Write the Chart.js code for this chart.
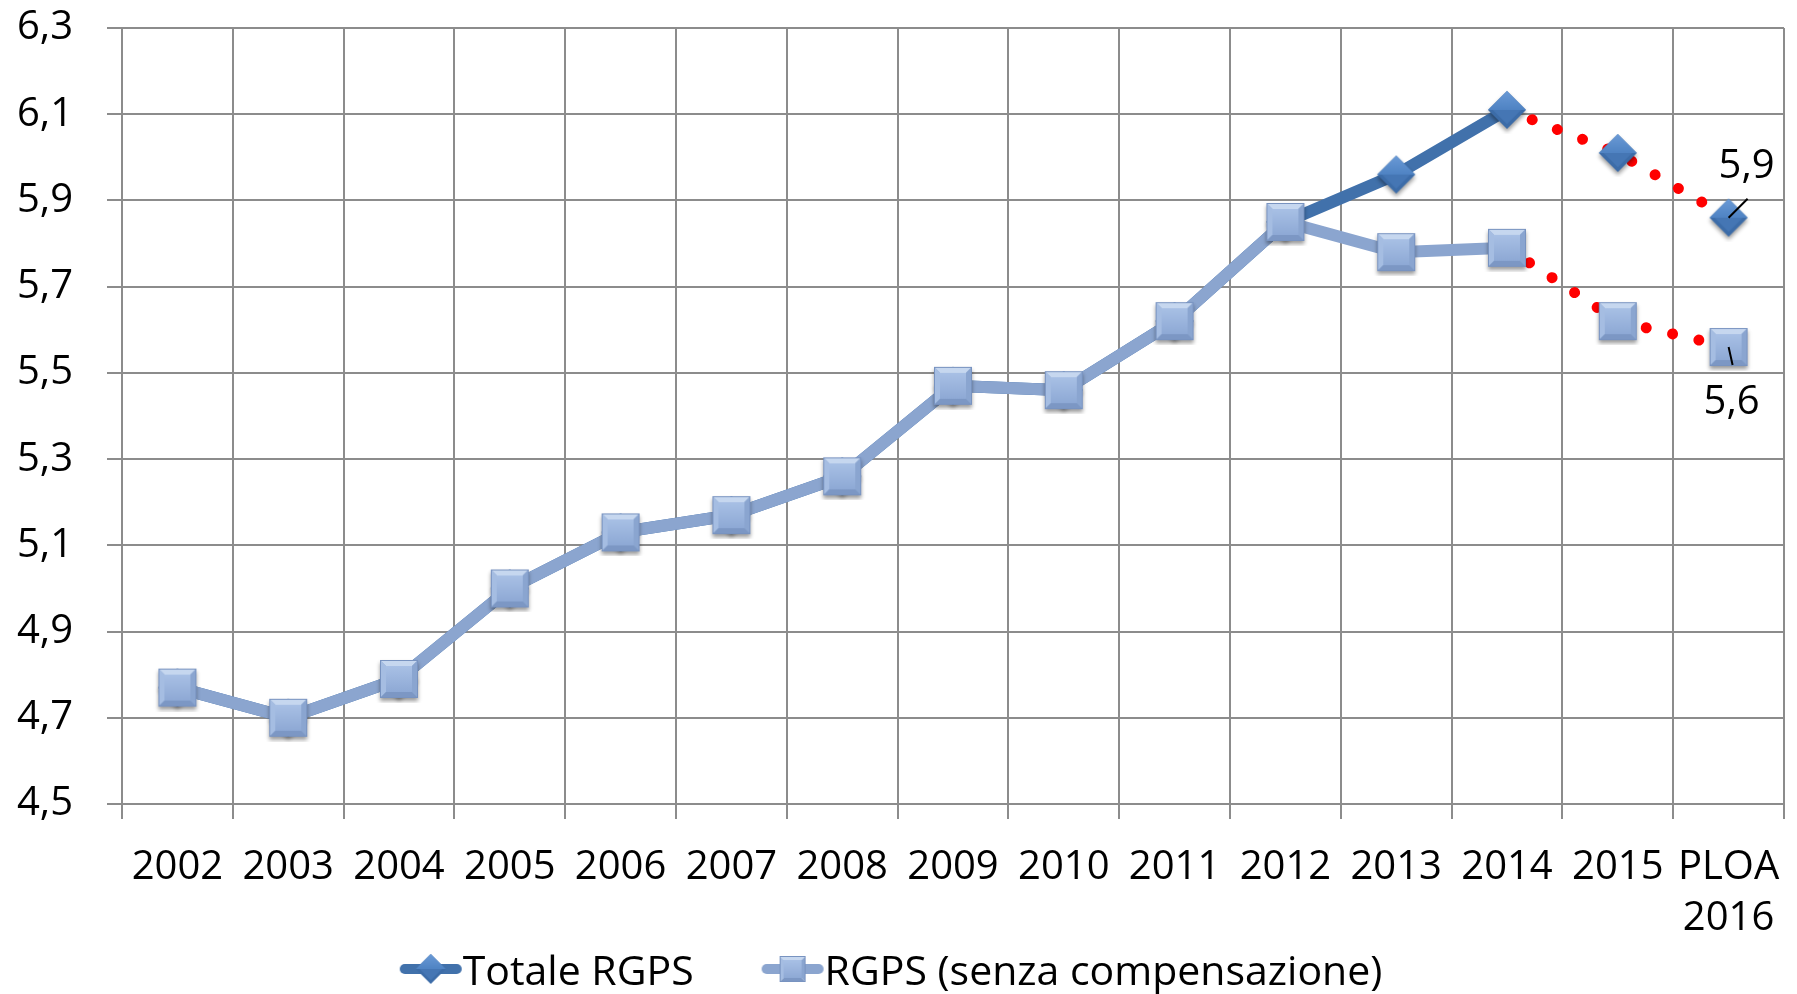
<!DOCTYPE html>
<html>
<head>
<meta charset="utf-8">
<script src="https://cdn.jsdelivr.net/npm/chart.js@4.4.1/dist/chart.umd.min.js"></script>
<style>
  html, body { margin: 0; padding: 0; background: #fff; }
  #wrap { width: 1797px; height: 994px; position: relative; }
</style>
</head>
<body>
<div id="wrap"><canvas id="chart"></canvas></div>
<script>
// data
const years = ["2002", "2003", "2004", "2005", "2006", "2007", "2008", "2009", "2010", "2011", "2012", "2013", "2014", "2015", ["PLOA", "2016"]];
const totaleRgps = [4.77, 4.70, 4.79, 5.00, 5.13, 5.17, 5.26, 5.47, 5.46, 5.62, 5.85, 5.96, 6.11, 6.01, 5.86];
const rgpsSenza = [4.77, 4.70, 4.79, 5.00, 5.13, 5.17, 5.26, 5.47, 5.46, 5.62, 5.85, 5.78, 5.79, 5.62, 5.56];
const seriesNames = ["Totale RGPS", "RGPS (senza compensazione)"];
const yMin = 4.5;
const yMax = 6.3;
const yStep = 0.2;
const forecastFrom = 12; // 2014 -> dotted red segments

const FONT = "'Open Sans'";
const darkBlue = "#4171ab";
const lightBlue = "#8ba5cf";

function fmt(v) {
  return v.toFixed(1).replace(".", ",");
}

// bevelled square marker, Excel style
function makeSquare(size, shadow) {
  const pad = shadow ? 5 : 1;
  const c = document.createElement("canvas");
  c.width = c.height = size + pad * 2;
  const g = c.getContext("2d");
  const x0 = pad, y0 = pad, s = size;
  const b = Math.max(2, Math.round(size * 0.15));
  if (shadow) {
    g.save();
    g.shadowColor = "rgba(0,0,0,0.4)";
    g.shadowBlur = 4;
    g.shadowOffsetY = 3;
    g.fillStyle = "#8aa6d2";
    g.fillRect(x0, y0, s, s);
    g.restore();
  }
  function facet(pts, color) {
    g.beginPath();
    g.moveTo(pts[0][0], pts[0][1]);
    for (let i = 1; i < pts.length; i++) g.lineTo(pts[i][0], pts[i][1]);
    g.closePath();
    g.fillStyle = color;
    g.fill();
  }
  const x1 = x0 + s, y1 = y0 + s;
  facet([[x0, y0], [x1, y0], [x1 - b, y0 + b], [x0 + b, y0 + b]], "#c6d7ef");
  facet([[x0, y0], [x0 + b, y0 + b], [x0 + b, y1 - b], [x0, y1]], "#a5bde2");
  facet([[x1, y0], [x1, y1], [x1 - b, y1 - b], [x1 - b, y0 + b]], "#8aa5d0");
  facet([[x0, y1], [x0 + b, y1 - b], [x1 - b, y1 - b], [x1, y1]], "#7c97c4");
  const grad = g.createLinearGradient(0, y0 + b, 0, y1 - b);
  grad.addColorStop(0, "#a8c0e5");
  grad.addColorStop(1, "#8ea9d5");
  g.fillStyle = grad;
  g.fillRect(x0 + b, y0 + b, s - 2 * b, s - 2 * b);
  g.strokeStyle = "#7893c0";
  g.lineWidth = 1;
  g.strokeRect(x0 + 0.5, y0 + 0.5, s - 1, s - 1);
  return c;
}

// bevelled diamond marker
function makeDiamond(r, shadow) {
  const pad = shadow ? 5 : 1;
  const c = document.createElement("canvas");
  c.width = c.height = r * 2 + pad * 2;
  const g = c.getContext("2d");
  const cx = pad + r, cy = pad + r;
  g.save();
  if (shadow) {
    g.shadowColor = "rgba(0,0,0,0.4)";
    g.shadowBlur = 4;
    g.shadowOffsetY = 3;
  }
  g.beginPath();
  g.moveTo(cx - r, cy);
  g.lineTo(cx, cy - r);
  g.lineTo(cx + r, cy);
  g.lineTo(cx, cy + r);
  g.closePath();
  g.fillStyle = "#3c6ca8";
  g.fill();
  g.restore();
  const grad = g.createLinearGradient(0, cy - r, 0, cy);
  grad.addColorStop(0, "#6a9ad6");
  grad.addColorStop(1, "#4f83c3");
  g.beginPath();
  g.moveTo(cx - r, cy);
  g.lineTo(cx, cy - r);
  g.lineTo(cx + r, cy);
  g.closePath();
  g.fillStyle = grad;
  g.fill();
  const r2 = r * 0.75;
  g.beginPath();
  g.moveTo(cx - r2, cy);
  g.lineTo(cx, cy + r2);
  g.lineTo(cx + r2, cy);
  g.closePath();
  g.fillStyle = "#4576b4";
  g.fill();
  return c;
}

function makeLegendIcon(marker, color) {
  const c = document.createElement("canvas");
  c.width = 64;
  c.height = 34;
  const g = c.getContext("2d");
  g.strokeStyle = color;
  g.lineWidth = 10;
  g.lineCap = "round";
  g.beginPath();
  g.moveTo(6, 17);
  g.lineTo(58, 17);
  g.stroke();
  g.drawImage(marker, 32 - marker.width / 2, 17 - marker.height / 2);
  return c;
}

const squareImg = makeSquare(38, true);
const diamondImg = makeDiamond(19, true);
const legendIcons = [
  makeLegendIcon(makeDiamond(15, false), darkBlue),
  makeLegendIcon(makeSquare(26, false), lightBlue),
];

const forecastSegment = {
  borderColor: (ctx) => (ctx.p0DataIndex >= forecastFrom ? "#ff0000" : undefined),
  borderDash: (ctx) => (ctx.p0DataIndex >= forecastFrom ? [0.01, 27] : undefined),
  borderWidth: (ctx) => (ctx.p0DataIndex >= forecastFrom ? 11 : undefined),
  borderCapStyle: (ctx) => (ctx.p0DataIndex >= forecastFrom ? "round" : undefined),
};

// value labels on the last category, with short leader lines
const lastLabels = {
  id: "lastLabels",
  afterDatasetsDraw(chart) {
    const ctx = chart.ctx;
    const last = years.length - 1;
    const pTot = chart.getDatasetMeta(0).data[last];
    const pSen = chart.getDatasetMeta(1).data[last];
    ctx.save();
    ctx.strokeStyle = "#000";
    ctx.lineWidth = 2;
    ctx.beginPath();
    ctx.moveTo(pTot.x, pTot.y);
    ctx.lineTo(pTot.x + 19, pTot.y - 19);
    ctx.moveTo(pSen.x, pSen.y);
    ctx.lineTo(pSen.x + 4, pSen.y + 18);
    ctx.stroke();
    ctx.fillStyle = "#000";
    ctx.font = "40px " + FONT;
    ctx.textAlign = "center";
    ctx.textBaseline = "middle";
    ctx.fillText(fmt(totaleRgps[last]), pTot.x + 18, pTot.y - 51);
    ctx.fillText(fmt(rgpsSenza[last]), pSen.x + 3, pSen.y + 56);
    ctx.restore();
  },
};

// legend row under the axis: line+marker icon right against its text
const bottomLegend = {
  id: "bottomLegend",
  afterDraw(chart) {
    const ctx = chart.ctx;
    ctx.save();
    ctx.font = "41px " + FONT;
    ctx.fillStyle = "#000";
    ctx.textBaseline = "middle";
    ctx.textAlign = "left";
    const gap = 67;
    const widths = seriesNames.map((t, i) => legendIcons[i].width + ctx.measureText(t).width);
    let x = chart.width / 2 - 8 - (widths[0] + gap + widths[1]) / 2;
    const y = chart.height - 25;
    seriesNames.forEach((t, i) => {
      const icon = legendIcons[i];
      ctx.drawImage(icon, x, y - icon.height / 2);
      ctx.fillText(t, x + icon.width, y + 4);
      x += widths[i] + gap;
    });
    ctx.restore();
  },
};

new Chart(document.getElementById("chart"), {
  type: "line",
  data: {
    labels: years,
    datasets: [
      {
        label: seriesNames[0],
        data: totaleRgps,
        borderColor: darkBlue,
        borderWidth: 12,
        pointStyle: diamondImg,
        pointRadius: 19,
        pointHoverRadius: 19,
        order: 2,
        segment: forecastSegment,
      },
      {
        label: seriesNames[1],
        data: rgpsSenza,
        borderColor: lightBlue,
        borderWidth: 12,
        pointStyle: squareImg,
        pointRadius: 19,
        pointHoverRadius: 19,
        order: 1,
        segment: forecastSegment,
      },
    ],
  },
  options: {
    responsive: true,
    maintainAspectRatio: false,
    animation: false,
    devicePixelRatio: 1,
    layout: {
      autoPadding: false,
      padding: { top: 28, left: 0, right: 13, bottom: 40 },
    },
    scales: {
      x: {
        offset: true,
        grid: {
          offset: true,
          color: "#8c8c8c",
          lineWidth: 2,
          tickLength: 15,
        },
        border: { color: "#8c8c8c", width: 2 },
        ticks: {
          color: "#000",
          font: { family: FONT, size: 40, lineHeight: 1.27 },
          padding: 23,
          autoSkip: false,
          maxRotation: 0,
          minRotation: 0,
        },
        afterFit: (scale) => {
          scale.height = 150;
          scale.paddingLeft = 0;
          scale.paddingRight = 0;
        },
      },
      y: {
        min: yMin,
        max: yMax,
        grid: {
          color: "#8c8c8c",
          lineWidth: 2,
          tickLength: 15,
        },
        border: { color: "#8c8c8c", width: 2 },
        ticks: {
          stepSize: yStep,
          color: "#000",
          font: { family: FONT, size: 40 },
          padding: 34,
          callback: (v) => fmt(v),
        },
        afterFit: (scale) => {
          scale.width = 122;
          scale.paddingTop = 0;
          scale.paddingBottom = 0;
        },
      },
    },
    plugins: {
      tooltip: { enabled: false },
      legend: { display: false },
    },
  },
  plugins: [lastLabels, bottomLegend],
});
</script>
</body>
</html>
